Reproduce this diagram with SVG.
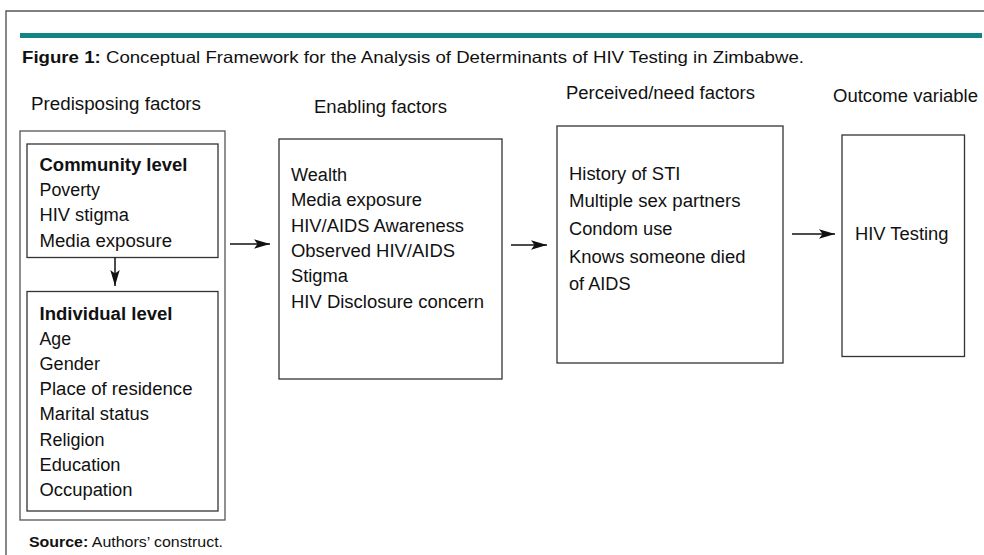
<svg xmlns="http://www.w3.org/2000/svg" width="984" height="555" viewBox="0 0 984 555">
<style>
  text { font-family: "Liberation Sans", Arial, sans-serif; fill: #111; }
  .t { font-size: 18px; }
  .h { font-size: 17.5px; }
  .b { font-weight: bold; }
  .box { fill: none; stroke: #333; stroke-width: 1.3; }
  .obox { fill: none; stroke: #555; stroke-width: 1.3; }
  .conn { stroke: #111; stroke-width: 1.5; fill: none; }
</style>
<defs>
  <marker id="arr" viewBox="0 0 16 11" refX="16" refY="5.5" markerWidth="16" markerHeight="11" markerUnits="userSpaceOnUse" orient="auto">
    <path d="M0,0.8 L16,5.5 L0,10.2 L3.5,5.5 z" fill="#111"/>
  </marker>
</defs>
<rect width="984" height="555" fill="#fff"/>
<g id="frame">
  <path d="M6,555 V11 H984" fill="none" stroke="#555" stroke-width="1.4"/>
  <rect x="20" y="33" width="962" height="5" fill="#128484"/>
  <text x="22" y="63" font-size="16.5" textLength="782" lengthAdjust="spacingAndGlyphs"><tspan class="b">Figure 1:</tspan> Conceptual Framework for the Analysis of Determinants of HIV Testing in Zimbabwe.</text>
</g>
<g id="headers">
  <text class="h" x="31" y="110" textLength="170" lengthAdjust="spacingAndGlyphs">Predisposing factors</text>
  <text class="h" x="314" y="112.5" textLength="133" lengthAdjust="spacingAndGlyphs">Enabling factors</text>
  <text class="h" x="566" y="99" textLength="189" lengthAdjust="spacingAndGlyphs">Perceived/need factors</text>
  <text class="h" x="833" y="102" textLength="145" lengthAdjust="spacingAndGlyphs">Outcome variable</text>
</g>
<g id="predisposing">
  <rect class="obox" x="20" y="131" width="205" height="389"/>
</g>
<g id="community">
  <rect class="box" x="27" y="144" width="191" height="113.5"/>
  <text class="t b" x="39.5" y="171" textLength="148" lengthAdjust="spacingAndGlyphs">Community level</text>
  <text class="t" x="39.5" y="196" textLength="60.5" lengthAdjust="spacingAndGlyphs">Poverty</text>
  <text class="t" x="39.5" y="221.3" textLength="89.5" lengthAdjust="spacingAndGlyphs">HIV stigma</text>
  <text class="t" x="39.5" y="246.5" textLength="132.5" lengthAdjust="spacingAndGlyphs">Media exposure</text>
</g>
<g id="individual">
  <rect class="box" x="27" y="291.5" width="191" height="219.5"/>
  <text class="t b" x="39.5" y="319.5" textLength="133" lengthAdjust="spacingAndGlyphs">Individual level</text>
  <text class="t" x="39.5" y="345" textLength="31.5" lengthAdjust="spacingAndGlyphs">Age</text>
  <text class="t" x="39.5" y="370" textLength="60.5" lengthAdjust="spacingAndGlyphs">Gender</text>
  <text class="t" x="39.5" y="395" textLength="153" lengthAdjust="spacingAndGlyphs">Place of residence</text>
  <text class="t" x="39.5" y="420" textLength="109.5" lengthAdjust="spacingAndGlyphs">Marital status</text>
  <text class="t" x="39.5" y="445.5" textLength="65" lengthAdjust="spacingAndGlyphs">Religion</text>
  <text class="t" x="39.5" y="470.5" textLength="81" lengthAdjust="spacingAndGlyphs">Education</text>
  <text class="t" x="39.5" y="496" textLength="93" lengthAdjust="spacingAndGlyphs">Occupation</text>
</g>
<g id="enabling">
  <rect class="box" x="279" y="139" width="223" height="240"/>
  <text class="t" x="291" y="181" textLength="56" lengthAdjust="spacingAndGlyphs">Wealth</text>
  <text class="t" x="291" y="206.3" textLength="131" lengthAdjust="spacingAndGlyphs">Media exposure</text>
  <text class="t" x="291" y="231.6" textLength="173" lengthAdjust="spacingAndGlyphs">HIV/AIDS Awareness</text>
  <text class="t" x="291" y="256.9" textLength="164" lengthAdjust="spacingAndGlyphs">Observed HIV/AIDS</text>
  <text class="t" x="291" y="282.2" textLength="57" lengthAdjust="spacingAndGlyphs">Stigma</text>
  <text class="t" x="291" y="307.5" textLength="193" lengthAdjust="spacingAndGlyphs">HIV Disclosure concern</text>
</g>
<g id="perceived">
  <rect class="box" x="557" y="126" width="226" height="237"/>
  <text class="t" x="569" y="179.5" textLength="111.5" lengthAdjust="spacingAndGlyphs">History of STI</text>
  <text class="t" x="569" y="207.2" textLength="171.5" lengthAdjust="spacingAndGlyphs">Multiple sex partners</text>
  <text class="t" x="569" y="234.9" textLength="103.5" lengthAdjust="spacingAndGlyphs">Condom use</text>
  <text class="t" x="569" y="262.6" textLength="176.5" lengthAdjust="spacingAndGlyphs">Knows someone died</text>
  <text class="t" x="569" y="290.3" textLength="61.5" lengthAdjust="spacingAndGlyphs">of AIDS</text>
</g>
<g id="outcome">
  <rect class="box" x="842" y="135" width="122.5" height="221.5"/>
  <text class="t" x="855" y="239.5" textLength="93.5" lengthAdjust="spacingAndGlyphs">HIV Testing</text>
</g>
<g id="connectors">
  <line class="conn" x1="115" y1="257.5" x2="115" y2="286" marker-end="url(#arr)"/>
  <line class="conn" x1="230" y1="244" x2="270" y2="244" marker-end="url(#arr)"/>
  <line class="conn" x1="511" y1="245" x2="547" y2="245" marker-end="url(#arr)"/>
  <line class="conn" x1="792" y1="234" x2="835" y2="234" marker-end="url(#arr)"/>
</g>
<g id="source">
  <text x="29" y="547" font-size="14.5" textLength="194" lengthAdjust="spacingAndGlyphs"><tspan class="b">Source:</tspan> Authors’ construct.</text>
</g>
</svg>
